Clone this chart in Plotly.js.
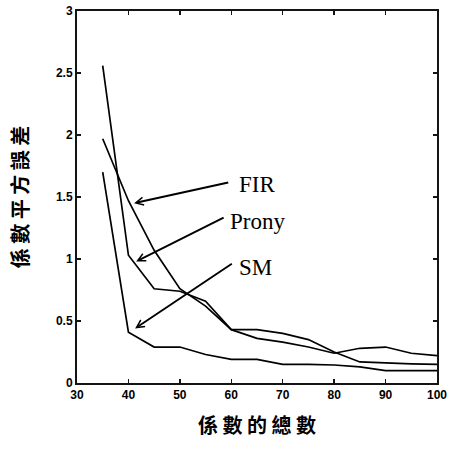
<!DOCTYPE html>
<html>
<head>
<meta charset="utf-8">
<script src="https://cdn.plot.ly/plotly-3.0.1.min.js"></script>
<style>html,body{margin:0;padding:0;background:#fff;}#chart{width:453px;height:452px;}</style>
</head>
<body>
<div id="chart"></div>
<script>
// Number of coefficients (x) and mean-square coefficient error per method
const coefCounts = [35, 40, 45, 50, 55, 60, 65, 70, 75, 80, 85, 90, 95, 100];
const firErr   = [1.97, 1.47, 1.07, 0.76, 0.62, 0.43, 0.36, 0.33, 0.29, 0.24, 0.28, 0.29, 0.24, 0.22];
const pronyErr = [2.56, 1.03, 0.76, 0.74, 0.66, 0.43, 0.43, 0.40, 0.35, 0.25, 0.17, 0.16, 0.155, 0.15];
const smErr    = [1.70, 0.41, 0.29, 0.29, 0.23, 0.19, 0.19, 0.15, 0.15, 0.145, 0.13, 0.10, 0.10, 0.10];

const seriesNames = ['FIR', 'Prony', 'SM'];
const xTickVals = [30, 40, 50, 60, 70, 80, 90, 100];
const yTickVals = [0, 0.5, 1, 1.5, 2, 2.5, 3];
const yTickText = ['0', '0.5', '1', '1.5', '2', '2.5', '3'];
const xTitle = '係 數 的 總 數';
const yTitle = '係 數 平 方 誤 差';

// label callouts: [arrow tip x, tip y, tail x, tail y, label x, label y]
const callouts = [
  [41.1, 1.45, 59.7, 1.62, 61.1, 1.60],
  [41.5, 0.98, 58.8, 1.34, 59.4, 1.30],
  [41.3, 0.44, 60.4, 0.97, 61.1, 0.935]
];

const lineStyle = {color: '#000', width: 1.7};
const traces = [firErr, pronyErr, smErr].map((ys, i) => ({
  x: coefCounts, y: ys, type: 'scatter', mode: 'lines',
  name: seriesNames[i], line: lineStyle, showlegend: false, hoverinfo: 'skip'
}));

const annotations = [];
callouts.forEach((c, i) => {
  annotations.push({
    x: c[0], y: c[1], ax: c[2], ay: c[3], xref: 'x', yref: 'y', axref: 'x', ayref: 'y',
    text: '', showarrow: true, arrowhead: 5, arrowsize: 0.8, arrowwidth: 1.9,
    arrowcolor: '#000', standoff: 0, startstandoff: 0
  });
  annotations.push({
    x: c[4], y: c[5], xref: 'x', yref: 'y', text: seriesNames[i], showarrow: false,
    xanchor: 'left', yanchor: 'middle',
    font: {family: 'Liberation Serif, Times New Roman, serif', size: 23, color: '#000'}
  });
});

const frameColor = '#141414';
const axisCommon = {
  showline: true, linecolor: frameColor, linewidth: 2, mirror: 'ticks',
  ticks: 'inside', ticklen: 4, tickwidth: 1.5, tickcolor: frameColor,
  showgrid: false, zeroline: false,
  tickfont: {family: 'Liberation Sans, Arial, sans-serif', size: 12, color: '#000', weight: 'bold'}
};

const layout = {
  width: 453, height: 452,
  margin: {l: 77, r: 16, t: 11, b: 69},
  paper_bgcolor: '#fff', plot_bgcolor: '#fff',
  xaxis: Object.assign({}, axisCommon, {
    range: [30, 100], tickvals: xTickVals,
    title: {text: xTitle, standoff: 18,
      font: {family: 'Noto Sans CJK TC', size: 20, color: '#000', weight: 'bold'}}
  }),
  yaxis: Object.assign({}, axisCommon, {
    range: [0, 3], tickvals: yTickVals, ticktext: yTickText,
    title: {text: yTitle, standoff: 22,
      font: {family: 'Noto Sans CJK TC', size: 20, color: '#000', weight: 'bold'}}
  }),
  annotations: annotations
};

Plotly.newPlot('chart', traces, layout, {displayModeBar: false, staticPlot: true});
</script>
</body>
</html>
